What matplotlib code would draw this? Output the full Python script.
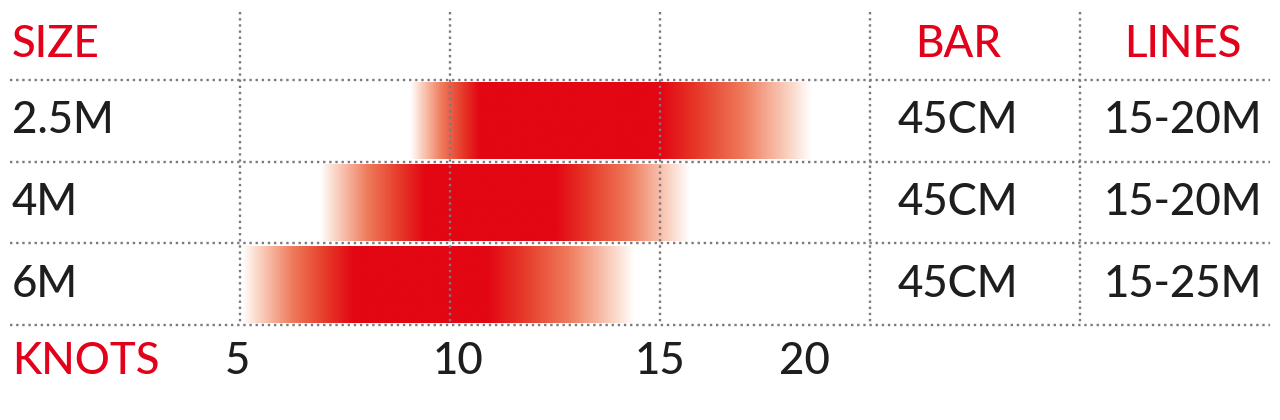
import numpy as np
from matplotlib import pyplot as plt
from matplotlib.colors import LinearSegmentedColormap

# ---- data ----
sizes = ["2.5M", "4M", "6M"]
fade_start = [9.05, 6.9, 5.05]    # knots where the colour starts
full_start = [10.7, 9.4, 7.7]     # knots where it is full red
full_end = [15.0, 12.5, 10.9]
fade_end = [18.6, 15.7, 14.4]
bar_sizes = ["45CM", "45CM", "45CM"]
line_lengths = ["15-20M", "15-20M", "15-25M"]
knot_ticks = [5, 10, 15, 20]
knot_labels = ["5", "10", "15", "20"]

RED = "#e2001a"
INK = "#1e1e1e"
GRID = "#7a7a80"

plt.rcParams['font.family'] = ['Lato', 'DejaVu Sans']

fig = plt.figure(figsize=(12.8, 4.2), dpi=100)
ax = fig.add_axes([0, 0, 1, 1])
# x in knots (5 kn at 240 px, 42 px per knot), y in table rows
px_kn = 42.0
row_px = 81.67
ax.set_xlim(5 - 240 / px_kn, 5 + (1280 - 240) / px_kn)
ax.set_ylim((420 - 80) / row_px, -80 / row_px)
ax.axis('off')

cmap = LinearSegmentedColormap.from_list(
    "wind", [(0, "#ffffff"), (0.15, "#fad3c3"), (0.45, "#ef7b5c"),
             (0.75, "#e63b2a"), (1, "#e30613")])

for i in range(len(sizes)):
    xs = np.linspace(fade_start[i], fade_end[i], 600)
    t = np.ones_like(xs)
    up = xs < full_start[i]
    t[up] = (xs[up] - fade_start[i]) / (full_start[i] - fade_start[i])
    dn = xs > full_end[i]
    t[dn] = (fade_end[i] - xs[dn]) / (fade_end[i] - full_end[i])
    ax.imshow(t[None, :], cmap=cmap, vmin=0, vmax=1, aspect='auto',
              extent=(fade_start[i], fade_end[i], i + 0.97, i + 0.03),
              interpolation='bilinear', zorder=1)

# dotted grid
x_left = 5 - 230 / px_kn
x_right = 5 + (1270 - 240) / px_kn
for y in range(len(sizes) + 1):
    ax.plot([x_left, x_right], [y, y], color=GRID, lw=1.7,
            linestyle=(0, (1, 1.6)), zorder=2)
col_lines = knot_ticks + [25]
for x in col_lines:
    ax.plot([x, x], [-68 / row_px, len(sizes)], color=GRID, lw=1.7,
            linestyle=(0, (1, 1.6)), zorder=2)

fs = 31.5
fw = 'medium'
x_lab = 5 - 228 / px_kn
bar_x = 22.1
lines_x = 27.45
head_y = -0.43
ax.text(x_lab, head_y, "SIZE", color=RED, fontsize=fs, fontweight=fw, va='center', ha='left')
ax.text(bar_x, head_y, "BAR", color=RED, fontsize=fs, fontweight=fw, va='center', ha='center')
ax.text(lines_x, head_y, "LINES", color=RED, fontsize=fs, fontweight=fw, va='center', ha='center')

for i, s in enumerate(sizes):
    yc = i + 0.5
    ax.text(x_lab, yc, s, color=INK, fontsize=fs, fontweight=fw, va='center', ha='left')
    ax.text(bar_x, yc, bar_sizes[i], color=INK, fontsize=fs, fontweight=fw,
            va='center', ha='center')
    ax.text(lines_x, yc, line_lengths[i], color=INK, fontsize=fs, fontweight=fw,
            va='center', ha='center')

knot_y = 3.45
ax.text(x_lab, knot_y, "KNOTS", color=RED, fontsize=fs, fontweight=fw, va='center', ha='left')
label_shift = [-0.07, 0.19, 0.0, -1.55]  # label offsets as drawn in the original
for k, lab, dx in zip(knot_ticks, knot_labels, label_shift):
    ax.text(k + dx, knot_y, lab, color=INK, fontsize=fs, fontweight=fw,
            va='center', ha='center')

fig.savefig("out.png", dpi=100)
